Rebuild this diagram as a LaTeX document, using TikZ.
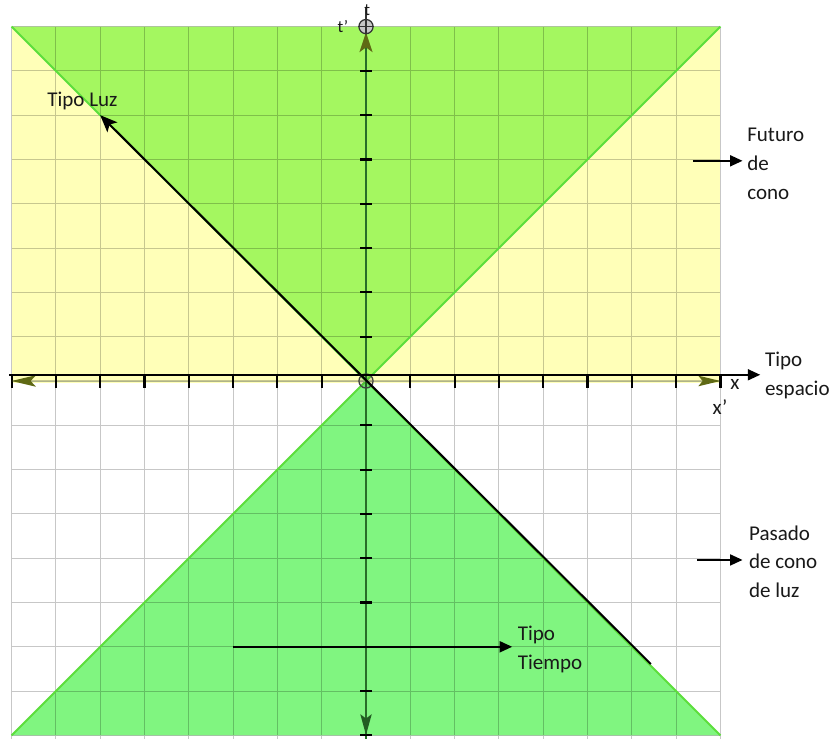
\documentclass[tikz,border=0pt]{standalone}
\usepackage{fontspec}
\setmainfont{Carlito}
\usetikzlibrary{arrows.meta}
\definecolor{yel}{RGB}{255,255,184}
\definecolor{upg}{RGB}{164,247,96}
\definecolor{lowg}{RGB}{128,245,128}
\definecolor{edgeg}{RGB}{92,222,60}
\definecolor{axg}{RGB}{40,110,40}
\definecolor{axol}{RGB}{95,105,20}
\definecolor{txt}{RGB}{25,25,25}
\tikzset{
  gridline/.style={black, opacity=0.22, line width=0.7pt},
  coneedge/.style={edgeg, line width=1.2pt},
  tickmark/.style={black, line width=1.4pt},
  blackarrow/.style={black, line width=1.3pt, -{Triangle[length=8pt,width=7pt]}},
  lbl/.style={text=txt, inner sep=0pt, anchor=west, align=left},
}
\begin{document}
\begin{tikzpicture}[x=1cm,y=1cm,font=\fontsize{13.5}{18.5}\selectfont]
\useasboundingbox (-8.262,-8.081) rectangle (10.519,8.600);
\fill[white] (-8.262,-8.081) rectangle (10.519,8.600);
% regions
\fill[yel] (-8,-0.05) rectangle (8,8);
\fill[upg] (0,0) -- (-8,8) -- (8,8) -- cycle;
\fill[lowg] (0,0) -- (-8,-8) -- (8,-8) -- cycle;
\draw[gridline] (-8,-8.2) grid (8,8);
\draw[coneedge] (-8,8) -- (0,0) -- (8,8);
\draw[coneedge] (-8,-8) -- (0,0) -- (8,-8);
% x' axis
\draw[axol!50, line width=0.6pt] (-8,-0.02) -- (8,-0.02);
\foreach \i in {-8,...,8} \draw[tickmark] (\i,0.14) -- (\i,-0.16);
\fill[axol] (-8,0) -- (-7.45,0.13) -- (-7.57,0) -- (-7.45,-0.13) -- cycle;
\fill[axol] (8,0) -- (7.5,0.12) -- (7.6,0) -- (7.5,-0.12) -- cycle;
% t axis
\draw[axg, line width=1pt] (0,8) -- (0,-8.2);
\foreach \j in {-8,...,-1,1,2,...,7} \draw[tickmark] (-0.13,\j) -- (0.13,\j);
\fill[axol] (0,7.87) -- (0.15,7.42) -- (0,7.53) -- (-0.15,7.42) -- cycle;
\fill[axg!85!black] (0,-7.99) -- (0.13,-7.52) -- (0,-7.62) -- (-0.13,-7.52) -- cycle;
% circles
\node[circle, draw=black!75, line width=0.8pt, fill=black, fill opacity=0.12, draw opacity=1, minimum size=0.32cm, inner sep=0pt] (o) at (0,0) {};
\node[circle, draw=black!80, line width=0.8pt, fill=black!22, minimum size=0.32cm, inner sep=0pt] (top) at (0,8) {};
\draw[black!80, line width=0.8pt] (top.west) -- (top.east);
\draw[black!80, line width=0.8pt] (0,8.45) -- (top.south);
% axis labels
\node[text=txt, inner sep=0pt] (tlab) at (0.03,8.37) {\fontsize{11}{12}\selectfont t};
\node[text=txt, inner sep=0pt] (tplab) at (-0.52,8.0) {\fontsize{11}{12}\selectfont t'};
\node[text=txt, inner sep=0pt] (xlab) at (8.33,-0.07) {x};
\node[text=txt, inner sep=0pt] (xplab) at (7.99,-0.6) {x'};
% light line
\coordinate (luzA) at (6.43,-6.39);
\coordinate (luzB) at (-6,6);
\draw[black, line width=1.3pt, -{Stealth[length=11pt,width=9pt,inset=2.5pt]}] (luzA) -- (luzB);
% space arrow
\coordinate (espA) at (-8.05,0.14);
\coordinate (espB) at (8.9,0.14);
\draw[blackarrow] (espA) -- (espB);
% time arrow
\coordinate (tiA) at (-3.0,-6.0);
\coordinate (tiB) at (3.3,-6.0);
\draw[blackarrow] (tiA) -- (tiB);
% futuro arrow
\coordinate (fuA) at (7.38,4.97);
\coordinate (fuB) at (8.5,4.97);
\draw[blackarrow] (fuA) -- (fuB);
% pasado arrow
\coordinate (paA) at (7.47,-4.04);
\coordinate (paB) at (8.5,-4.04);
\draw[blackarrow] (paA) -- (paB);
% labels
\node[lbl] (luz) at (-7.2,6.32) {Tipo Luz};
\node[lbl] (esp) at (9.0,0.12) {Tipo\\espacio};
\node[lbl] (fut) at (8.6,4.9) {Futuro\\de\\cono};
\node[lbl] (pas) at (8.64,-4.08) {Pasado\\de cono\\de luz};
\node[lbl] (tie) at (3.42,-6.06) {Tipo\\Tiempo};
\end{tikzpicture}
\end{document}
